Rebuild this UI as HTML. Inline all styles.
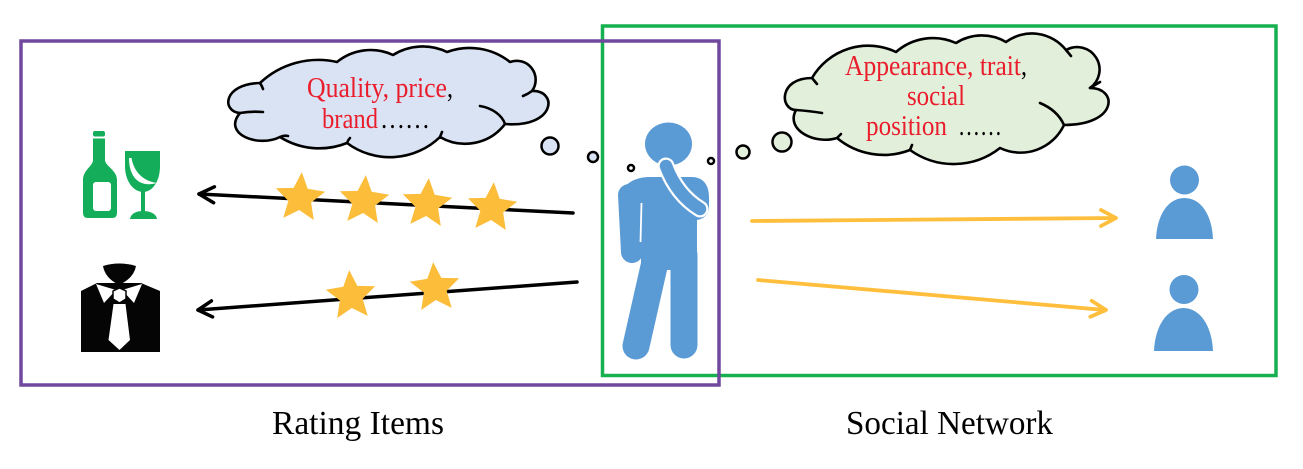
<!DOCTYPE html>
<html>
<head>
<meta charset="utf-8">
<style>
  html, body { margin:0; padding:0; background:#ffffff; }
  svg { display:block; }
  text { font-family: "Liberation Serif", "Times New Roman", serif; }
</style>
</head>
<body>
<svg width="1303" height="469" viewBox="0 0 1303 469" xmlns="http://www.w3.org/2000/svg">
  <rect x="0" y="0" width="1303" height="469" fill="#ffffff"/>

  <!-- Frames -->
  <rect x="602.5" y="26" width="673.5" height="349.5" fill="none" stroke="#16b050" stroke-width="3.5"/>
  <rect x="21" y="41" width="698" height="344" fill="none" stroke="#70489e" stroke-width="3.5"/>

  <!-- Cloud 1 (left, blue) -->
  <path d="M 260,83
           A 85,85 0 0 1 337,62
           A 53,53 0 0 1 393,55
           A 56,56 0 0 1 447,52
           A 65,65 0 0 1 510,62
           A 19,19 0 0 1 532,91
           C 558,90 556,128 505,124
           A 50,50 0 0 1 440,137
           A 72,72 0 0 1 347,143
           A 74,74 0 0 1 280,137
           C 258,148 222,134 240,113
           C 222,112 222,84 260,83 Z"
        fill="#dae3f3" stroke="#000" stroke-width="2.6" stroke-linejoin="round"/>
  <g fill="none" stroke="#000" stroke-width="2.6" stroke-linecap="round">
    <path d="M 240,113 Q 251,111 263,112"/>
    <path d="M 480,106 C 492,108 502,115 505,124"/>
    <path d="M 532,91 Q 528,94 523,96"/>
    <path d="M 260,83 Q 262,86 263,89"/>
    <path d="M 440,137 L 442,132"/>
    <path d="M 347,143 Q 348,140 350,138"/>
    <path d="M 280,137 Q 284,135 288,136"/>
  </g>

  <!-- Cloud 2 (right, green) -->
  <path d="M 812,78
           A 65,65 0 0 1 896,52
           A 56,56 0 0 1 956,43
           A 48,48 0 0 1 1006,42
           A 43.5,43.5 0 0 1 1066,50
           A 22.5,22.5 0 0 1 1090,88
           C 1118,88 1118,125 1064,125
           A 48,48 0 0 1 1000,148
           A 75,75 0 0 1 910,150
           A 73,73 0 0 1 837,138
           C 815,145 785,130 796,110
           C 780,110 778,78 812,78 Z"
        fill="#e2efda" stroke="#000" stroke-width="2.6" stroke-linejoin="round"/>
  <g fill="none" stroke="#000" stroke-width="2.6" stroke-linecap="round">
    <path d="M 796,110 Q 810,111 822,113"/>
    <path d="M 1040,103 C 1052,108 1060,116 1064,125"/>
    <path d="M 1090,88 Q 1095,85 1100,82"/>
    <path d="M 1066,50 L 1071,56"/>
    <path d="M 812,78 L 817,84"/>
    <path d="M 910,150 L 912,145"/>
    <path d="M 837,138 L 841,134"/>
  </g>

  <!-- Thought bubbles -->
  <g stroke="#000" stroke-width="2.5">
    <circle cx="550" cy="146" r="8.5" fill="#dae3f3"/>
    <circle cx="593" cy="157" r="5" fill="#dae3f3"/>
    <circle cx="631" cy="168" r="3" fill="#ffffff"/>
    <circle cx="711" cy="161" r="3" fill="#ffffff"/>
    <circle cx="743" cy="152" r="6.5" fill="#e2efda"/>
    <circle cx="782" cy="142" r="9.5" fill="#e2efda"/>
  </g>

  <!-- Cloud texts -->
  <g font-size="28">
    <text x="307" y="97" fill="#ea1d2c" textLength="140" lengthAdjust="spacingAndGlyphs">Quality, price</text>
    <text x="447" y="97" fill="#000" textLength="6" lengthAdjust="spacingAndGlyphs">,</text>
    <text x="322" y="128" fill="#ea1d2c" textLength="56" lengthAdjust="spacingAndGlyphs">brand</text>
    <text x="380" y="128" fill="#000" textLength="50" lengthAdjust="spacingAndGlyphs">……</text>

    <text x="845" y="75" fill="#ea1d2c" textLength="176" lengthAdjust="spacingAndGlyphs">Appearance, trait</text>
    <text x="1021" y="75" fill="#000" textLength="6" lengthAdjust="spacingAndGlyphs">,</text>
    <text x="907" y="105" fill="#ea1d2c" textLength="58" lengthAdjust="spacingAndGlyphs">social</text>
    <text x="866" y="135" fill="#ea1d2c" textLength="81" lengthAdjust="spacingAndGlyphs">position</text>
    <text x="958" y="135" fill="#000" textLength="44" lengthAdjust="spacingAndGlyphs">……</text>
  </g>

  <!-- Black arrows (ratings) -->
  <g fill="none" stroke="#000" stroke-width="3.5" stroke-linecap="round" stroke-linejoin="round">
    <line x1="573" y1="213" x2="199" y2="194"/>
    <polyline points="213.6,202.7 199,194 214.4,186.8"/>
    <line x1="577" y1="282" x2="198" y2="310"/>
    <polyline points="212.6,316.9 198,310 211.4,300.9"/>
  </g>

  <!-- Stars -->
  <g fill="#fbbd3a">
    <polygon transform="translate(300,198) rotate(4)" points="0,-26 7.05,-9.71 24.73,-8.04 11.41,3.71 15.28,21.04 0,12 -15.28,21.04 -11.41,3.71 -24.73,-8.04 -7.05,-9.71"/>
    <polygon transform="translate(364,201) rotate(4)" points="0,-26 7.05,-9.71 24.73,-8.04 11.41,3.71 15.28,21.04 0,12 -15.28,21.04 -11.41,3.71 -24.73,-8.04 -7.05,-9.71"/>
    <polygon transform="translate(427,204) rotate(4)" points="0,-26 7.05,-9.71 24.73,-8.04 11.41,3.71 15.28,21.04 0,12 -15.28,21.04 -11.41,3.71 -24.73,-8.04 -7.05,-9.71"/>
    <polygon transform="translate(492,208) rotate(4)" points="0,-26 7.05,-9.71 24.73,-8.04 11.41,3.71 15.28,21.04 0,12 -15.28,21.04 -11.41,3.71 -24.73,-8.04 -7.05,-9.71"/>
    <polygon transform="translate(351,296) rotate(-4)" points="0,-26 7.05,-9.71 24.73,-8.04 11.41,3.71 15.28,21.04 0,12 -15.28,21.04 -11.41,3.71 -24.73,-8.04 -7.05,-9.71"/>
    <polygon transform="translate(435,288) rotate(-4)" points="0,-26 7.05,-9.71 24.73,-8.04 11.41,3.71 15.28,21.04 0,12 -15.28,21.04 -11.41,3.71 -24.73,-8.04 -7.05,-9.71"/>
  </g>

  <!-- Yellow arrows (social) -->
  <g fill="none" stroke="#ffbe3b" stroke-width="3.8" stroke-linecap="round" stroke-linejoin="round">
    <line x1="752" y1="221" x2="1115" y2="218"/>
    <polyline points="1101,210 1116,218 1101,226"/>
    <line x1="758" y1="280" x2="1105" y2="310"/>
    <polyline points="1091.7,300.8 1106,310 1090.4,316.7"/>
  </g>

  <!-- Wine bottle & glass -->
  <g fill="#14ae5a">
    <rect x="93" y="131" width="12" height="5.5" rx="2"/>
    <path d="M 93,138.5 L 105,138.5 L 105,160 C 105,166 117,170 117,180 L 117,213 Q 117,218 112,218 L 88,218 Q 83,218 83,213 L 83,180 C 83,170 93,166 93,160 Z"/>
    <path d="M 125,151 L 160,151 L 160,166 C 160,182 152,192 143,192 C 134,192 125,182 125,166 Z"/>
    <rect x="141" y="190" width="4" height="22"/>
    <path d="M 130,219 C 131,213 137,211 143,211 C 149,211 156,213 157,219 Z"/>
  </g>
  <rect x="93" y="182" width="18" height="29" rx="3" fill="#ffffff"/>
  <path d="M 129,158 C 129,177 139,188 157,183 C 143,181 134,172 131.5,158 Z" fill="#ffffff"/>

  <!-- Suit & tie -->
  <g>
    <polygon points="81,291 97,283 141,283 160,291 160,352 81,352" fill="#050505"/>
    <path d="M 103,266 Q 119,261 136,266 Q 134,278 119,285 Q 105,278 103,266 Z" fill="#050505"/>
    <polygon points="96,284 116,290 104,303" fill="#ffffff"/>
    <polygon points="142,284 122,290 134,303" fill="#ffffff"/>
    <polygon points="113,291 119.5,288 126,291 126,299 119.5,303 113,299" fill="#ffffff" stroke="#050505" stroke-width="1.5"/>
    <polygon points="113.5,304 125.5,304 130,340 119.5,350 108.5,340" fill="#ffffff"/>
  </g>

  <!-- Thinking person -->
  <g fill="#5b9bd5">
    <ellipse cx="668.5" cy="144" rx="23.5" ry="21.5"/>
    <path d="M 619,205 C 619,186 632,177 650,177 L 692,177 C 703,177 709,185 709,197 L 709,207 C 709,214 704,219 697,220 L 697,270 L 641,270 L 641,245 Z"/>
  </g>
  <g stroke="#5b9bd5" stroke-linecap="round" fill="none">
    <line x1="629" y1="195" x2="632" y2="252" stroke-width="22"/>
    <line x1="655" y1="262" x2="636" y2="346" stroke-width="27"/>
    <line x1="684" y1="255" x2="684" y2="345" stroke-width="27"/>
  </g>
  <line x1="641.5" y1="203" x2="640.5" y2="242" stroke="#ffffff" stroke-width="1.8"/>
  <path d="M 666,166 Q 677,195 700,209" fill="none" stroke="#ffffff" stroke-width="17" stroke-linecap="round"/>
  <path d="M 666,166 Q 677,195 700,209" fill="none" stroke="#5b9bd5" stroke-width="12.5" stroke-linecap="round"/>

  <!-- Social network people -->
  <g fill="#5b9bd5">
    <circle cx="1184.5" cy="180" r="14.5"/>
    <path d="M 1156,239 C 1157,215 1168,198 1184.5,198 C 1201,198 1212,215 1213,239 Z"/>
    <circle cx="1184" cy="289.5" r="14.5"/>
    <path d="M 1154,351 C 1155,326 1167,308 1183.5,308 C 1200,308 1212,326 1213,351 Z"/>
  </g>

  <!-- Bottom labels -->
  <text x="272" y="434" font-size="34" fill="#000" textLength="172" lengthAdjust="spacingAndGlyphs">Rating Items</text>
  <text x="846" y="434" font-size="34" fill="#000" textLength="207" lengthAdjust="spacingAndGlyphs">Social Network</text>
</svg>
</body>
</html>
